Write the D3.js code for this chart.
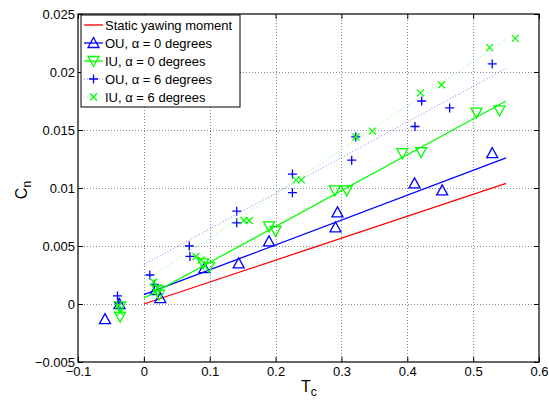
<!DOCTYPE html>
<html>
<head>
<meta charset="utf-8">
<script src="https://cdn.jsdelivr.net/npm/d3@7"></script>
<style>
  body { margin: 0; background: #fff; }
  text { font-family: "Liberation Sans", Arial, Helvetica, sans-serif; fill: #000; }
</style>
</head>
<body>
<svg id="chart" width="549" height="401"></svg>
<script>
// tick values / labels
var xTicks = [-0.1, 0, 0.1, 0.2, 0.3, 0.4, 0.5, 0.6];
var xTickLabels = ["\u22120.1", "0", "0.1", "0.2", "0.3", "0.4", "0.5", "0.6"];
var yTicks = [-0.005, 0, 0.005, 0.01, 0.015, 0.02, 0.025];
var yTickLabels = ["\u22120.005", "0", "0.005", "0.01", "0.015", "0.02", "0.025"];

// fitted lines (start at Tc = 0, end at Tc = 0.55)
var fitX = [0, 0.55];
var staticY = [0, 0.0104];
var ou0FitY = [0.0008, 0.0126];
var iu0FitY = [0.0005, 0.0175];
var ou6FitY = [0.0034, 0.0203];
var iu6FitY = [0.0019, 0.0228];

// OU, alpha = 0 (triangles up)
var ou0X = [-0.059, -0.037, 0.018, 0.025, 0.092, 0.144, 0.19, 0.291, 0.294, 0.411, 0.453, 0.529];
var ou0Y = [-0.0013, 0.0000, 0.0012, 0.0005, 0.0031, 0.0035, 0.0054, 0.0066, 0.0079, 0.0104, 0.0098, 0.0130];

// IU, alpha = 0 (triangles down)
var iu0X = [-0.036, -0.036, 0.021, 0.023, 0.090, 0.099, 0.19, 0.20, 0.29, 0.308, 0.3925, 0.421, 0.505, 0.540];
var iu0Y = [-0.0002, -0.0011, 0.0012, 0.0008, 0.0035, 0.0032, 0.0067, 0.0063, 0.0098, 0.0098, 0.0130, 0.0131, 0.0165, 0.0167];

// OU, alpha = 6 (plus)
var ou6X = [-0.040, -0.038, 0.009, 0.016, 0.069, 0.070, 0.141, 0.141, 0.2256, 0.2256, 0.3156, 0.3217, 0.4117, 0.4219, 0.4643, 0.529];
var ou6Y = [0.0007, 0.0001, 0.0025, 0.0017, 0.0050, 0.0041, 0.0080, 0.0070, 0.0112, 0.0096, 0.0124, 0.0144, 0.0153, 0.0175, 0.0169, 0.0207];

// IU, alpha = 6 (cross)
var iu6X = [-0.038, -0.036, 0.015, 0.021, 0.079, 0.087, 0.152, 0.160, 0.231, 0.239, 0.322, 0.347, 0.420, 0.452, 0.525, 0.564];
var iu6Y = [-0.0001, -0.0007, 0.0019, 0.0014, 0.0041, 0.0038, 0.0072, 0.0072, 0.0107, 0.0107, 0.0144, 0.0149, 0.0182, 0.0189, 0.0221, 0.0229];

var legendLabels = ["Static yawing moment", "OU, \u03b1 = 0 degrees", "IU, \u03b1 = 0 degrees",
                    "OU, \u03b1 = 6 degrees", "IU, \u03b1 = 6 degrees"];

var BLUE = "#0000ff", GREEN = "#00ff00", RED = "#ff0000";

var svg = d3.select("#chart");
var pLeft = 78, pRight = 539, pTop = 14, pBottom = 362;

var x = d3.scaleLinear().domain([-0.1, 0.6]).range([pLeft, pRight]);
var y = d3.scaleLinear().domain([-0.005, 0.025]).range([pBottom, pTop]);

// grid
var grid = svg.append("g").attr("class", "grid");
grid.selectAll("line.gx").data(xTicks.slice(1, -1)).enter().append("line")
  .attr("x1", function(d) { return Math.round(x(d)) + 0.5; })
  .attr("x2", function(d) { return Math.round(x(d)) + 0.5; })
  .attr("y1", pTop).attr("y2", pBottom);
grid.selectAll("line.gy").data(yTicks.slice(1, -1)).enter().append("line")
  .attr("y1", function(d) { return Math.round(y(d)) + 0.5; })
  .attr("y2", function(d) { return Math.round(y(d)) + 0.5; })
  .attr("x1", pLeft).attr("x2", pRight);
grid.selectAll("line").attr("stroke", "#8c8c8c").attr("stroke-width", 1)
  .attr("stroke-dasharray", "1,2");

// axes (ticks pointing inwards, on all sides)
function styleAxis(g) {
  g.select(".domain").remove();
  g.selectAll(".tick line").attr("stroke", "#000");
  g.selectAll(".tick text").style("font-size", "13px").attr("fill", "#000");
}
svg.append("g").attr("transform", "translate(0," + pBottom + ")")
  .call(d3.axisBottom(x).tickValues(xTicks).tickSize(-5).tickPadding(5)
    .tickFormat(function(d, i) { return xTickLabels[i]; }))
  .call(styleAxis);
svg.append("g").attr("transform", "translate(0," + pTop + ")")
  .call(d3.axisTop(x).tickValues(xTicks).tickSize(-5).tickFormat(""))
  .call(styleAxis);
svg.append("g").attr("transform", "translate(" + pLeft + ",0)")
  .call(d3.axisLeft(y).tickValues(yTicks).tickSize(-5).tickPadding(3)
    .tickFormat(function(d, i) { return yTickLabels[i]; }))
  .call(styleAxis);
svg.append("g").attr("transform", "translate(" + pRight + ",0)")
  .call(d3.axisRight(y).tickValues(yTicks).tickSize(-5).tickFormat(""))
  .call(styleAxis);

svg.append("rect").attr("x", pLeft).attr("y", pTop)
  .attr("width", pRight - pLeft).attr("height", pBottom - pTop)
  .attr("fill", "none").attr("stroke", "#000").attr("stroke-width", 1.2);

// marker shapes
var shapes = {
  up: "M0,-5.5L5.5,4.5L-5.5,4.5Z",
  down: "M0,5.5L5.5,-4.5L-5.5,-4.5Z",
  plus: "M-4.5,0L4.5,0M0,-4.5L0,4.5",
  cross: "M-3.5,-3.5L3.5,3.5M-3.5,3.5L3.5,-3.5"
};

var line = d3.line().x(function(d) { return x(d[0]); }).y(function(d) { return y(d[1]); });
function drawFit(ys, color, dash, width) {
  svg.append("path").datum(d3.zip(fitX, ys)).attr("d", line)
    .attr("fill", "none").attr("stroke", color).attr("stroke-width", width)
    .attr("stroke-dasharray", dash);
}
function drawMarkers(xs, ys, shape, color) {
  svg.append("g").selectAll("path").data(d3.zip(xs, ys)).enter().append("path")
    .attr("transform", function(d) { return "translate(" + x(d[0]) + "," + y(d[1]) + ")"; })
    .attr("d", shapes[shape]).attr("fill", "none")
    .attr("stroke", color).attr("stroke-width", 1.3);
}

drawFit(staticY, RED, null, 1.3);
drawMarkers(ou0X, ou0Y, "up", BLUE);
drawFit(ou0FitY, BLUE, null, 1.3);
drawMarkers(iu0X, iu0Y, "down", GREEN);
drawFit(iu0FitY, GREEN, null, 1.3);
drawMarkers(ou6X, ou6Y, "plus", BLUE);
drawFit(ou6FitY, "#8080ff", "1,2", 1);
drawMarkers(iu6X, iu6Y, "cross", GREEN);
drawFit(iu6FitY, "#80ff80", "1,2", 1);

// legend
var lg = svg.append("g").attr("class", "legend");
lg.append("rect").attr("x", 81).attr("y", 15).attr("width", 159).attr("height", 92)
  .attr("fill", "#fff").attr("stroke", "#000").attr("stroke-width", 1);
var legItems = [
  { color: RED, dash: null, shape: null },
  { color: BLUE, dash: null, shape: "up" },
  { color: GREEN, dash: null, shape: "down" },
  { color: "#8080ff", dash: "1,2", shape: "plus", mcolor: BLUE },
  { color: "#80ff80", dash: "1,2", shape: "cross", mcolor: GREEN }
];
legItems.forEach(function(it, i) {
  var cy = 25 + i * 18;
  lg.append("line").attr("x1", 84).attr("x2", 103).attr("y1", cy).attr("y2", cy)
    .attr("stroke", it.color).attr("stroke-width", it.dash ? 1 : 1.3)
    .attr("stroke-dasharray", it.dash);
  if (it.shape) {
    lg.append("path").attr("transform", "translate(93.5," + cy + ")")
      .attr("d", shapes[it.shape]).attr("fill", "none")
      .attr("stroke", it.mcolor || it.color).attr("stroke-width", 1.3);
  }
  lg.append("text").attr("x", 105).attr("y", cy).attr("dy", "0.36em")
    .style("font-size", "13px").text(legendLabels[i]);
});

// axis labels
var xl = svg.append("text").attr("x", 301).attr("y", 392).style("font-size", "16px");
xl.append("tspan").text("T");
xl.append("tspan").attr("dy", 4).style("font-size", "12px").text("c");

var yl = svg.append("text").attr("transform", "translate(27,190) rotate(-90)")
  .attr("text-anchor", "middle").style("font-size", "16px");
yl.append("tspan").text("C");
yl.append("tspan").attr("dy", 4).style("font-size", "12px").text("n");
</script>
</body>
</html>
